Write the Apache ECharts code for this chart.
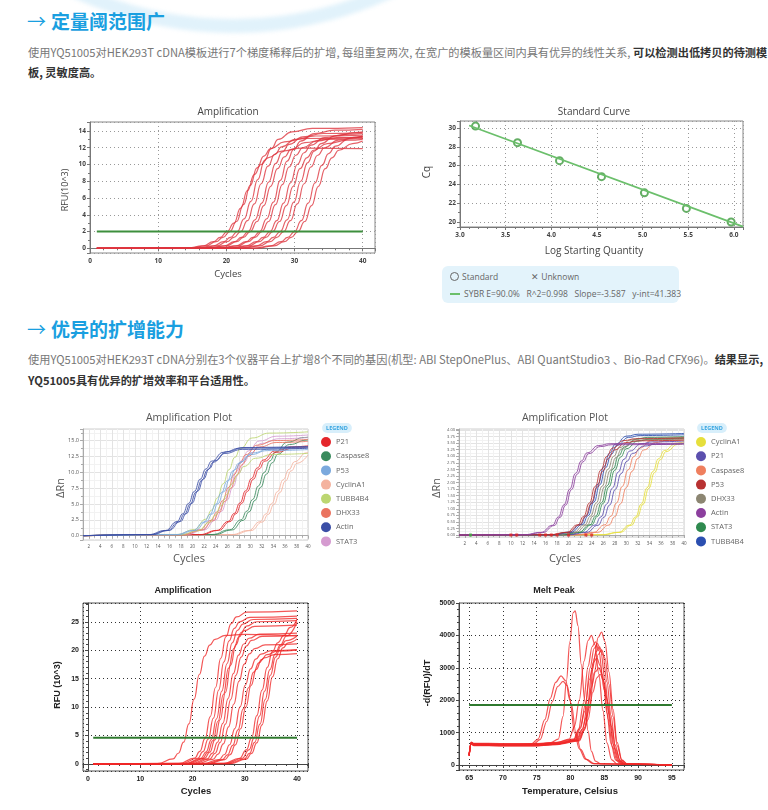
<!DOCTYPE html>
<html>
<head>
<meta charset="utf-8">
<script src="https://cdn.jsdelivr.net/npm/echarts@6/dist/echarts.min.js"></script>
<style>
html, body { margin:0; padding:0; background:#fff; }
#page { position:relative; width:768px; height:810px; overflow:hidden; font-family:"Noto Sans CJK SC", sans-serif; }
.arc { position:absolute; left:-147px; top:-727px; width:760px; height:760px; box-sizing:border-box; border-radius:50%; border:14px solid rgba(195,230,247,0.5); filter:blur(2px); }
.h { position:absolute; left:27px; font-size:19px; font-weight:700; color:#1a9fe0; white-space:nowrap; line-height:24px; }
.h .ar { font-weight:400; margin-right:5px; }
.p { position:absolute; left:28px; font-size:11.2px; color:#777; white-space:nowrap; line-height:16px; }
.p b { color:#333; }
.c { position:absolute; }
#stdLegend { position:absolute; left:442px; top:266px; width:237px; height:37px; background:#e3f3fb; border-radius:6px; font-family:"Open Sans", sans-serif; font-size:8.5px; color:#666; }
#stdLegend span { position:absolute; white-space:nowrap; line-height:12px; }
.ring { display:inline-block; width:7px; height:7px; border:1px solid #666; border-radius:50%; vertical-align:-1px; margin-right:3px; }
.dash { display:inline-block; width:10px; height:2px; background:#6bbf6b; vertical-align:2px; margin-right:4px; }
</style>
</head>
<body>
<div id="page">
  <div class="arc"></div>
  <div class="h" style="top:9px;"><span class="ar">→</span>定量阈范围广</div>
  <div class="p" style="top:44px;">使用YQ51005对HEK293T cDNA模板进行7个梯度稀释后的扩增, 每组重复两次, 在宽广的模板量区间内具有优异的线性关系, <b>可以检测出低拷贝的待测模</b></div>
  <div class="p" style="top:64px;"><b>板, 灵敏度高。</b></div>

  <div class="c" id="c1" style="left:40px; top:95px; width:345px; height:190px;"></div>
  <div class="c" id="c2" style="left:410px; top:95px; width:345px; height:170px;"></div>
  <div id="stdLegend">
    <span style="left:8px; top:5px;"><i class="ring"></i>Standard</span>
    <span style="left:89px; top:5px;">✕ Unknown</span>
    <span style="left:8px; top:22px;"><i class="dash"></i>SYBR E=90.0%&nbsp;&nbsp; R^2=0.998&nbsp;&nbsp; Slope=-3.587&nbsp;&nbsp; y-int=41.383</span>
  </div>

  <div class="h" style="top:317px;"><span class="ar">→</span>优异的扩增能力</div>
  <div class="p" style="top:351px;">使用YQ51005对HEK293T cDNA分别在3个仪器平台上扩增8个不同的基因(机型: ABI StepOnePlus、ABI QuantStudio3 、Bio-Rad CFX96)。<b>结果显示,</b></div>
  <div class="p" style="top:372px;"><b>YQ51005具有优异的扩增效率和平台适用性。</b></div>

  <div class="c" id="c3" style="left:40px; top:405px; width:330px; height:165px;"></div>
  <div class="c" id="c4" style="left:410px; top:405px; width:355px; height:165px;"></div>
  <div class="c" id="c5" style="left:40px; top:580px; width:290px; height:225px;"></div>
  <div class="c" id="c6" style="left:400px; top:580px; width:300px; height:225px;"></div>
</div>
<script>
// ---------- chart 1: dilution series amplification (RFU x10^3 vs cycle) ----------
var ampCurves = [
  [[1,0],[14.1,0.02],[16.6,0.3],[18.1,0.8],[19.1,1.3],[20.1,2],[21.1,3.0],[22.1,4.8],[23.1,6.9],[24.1,8.8],[25.1,10.0],[26.1,10.8],[28.1,11.6],[31.1,11.95],[40,11.9]],
  [[1,0],[14.5,0.02],[17,0.3],[18.5,0.8],[19.5,1.3],[20.5,2],[21.5,3.2],[22.5,5.2],[23.5,7.5],[24.5,9.6],[25.5,11.0],[26.5,11.9],[28.5,12.7],[31.5,13.1],[40,13.2]],
  [[1,0],[15.6,0.02],[18.1,0.3],[19.6,0.8],[20.6,1.3],[21.6,2],[22.6,3.5],[23.6,5.6],[24.6,8.2],[25.6,10.5],[26.6,11.9],[27.6,13.0],[29.6,13.9],[32.6,14.3],[40,14.4]],
  [[1,0],[16.1,0.02],[18.6,0.3],[20.1,0.8],[21.1,1.3],[22.1,2],[23.1,3.3],[24.1,5.3],[25.1,7.7],[26.1,9.8],[27.1,11.2],[28.1,12.1],[30.1,13.0],[33.1,13.4],[40,13.5]],
  [[1,0],[17.2,0.02],[19.7,0.3],[21.2,0.8],[22.2,1.3],[23.2,2],[24.2,3.4],[25.2,5.4],[26.2,7.9],[27.2,10.1],[28.2,11.5],[29.2,12.4],[31.2,13.3],[34.2,13.7],[40,13.8]],
  [[1,0],[17.5,0.02],[20,0.3],[21.5,0.8],[22.5,1.3],[23.5,2],[24.5,3.2],[25.5,5.1],[26.5,7.4],[27.5,9.5],[28.5,10.9],[29.5,11.8],[31.5,12.6],[34.5,13.0],[40,13.1]],
  [[1,0],[18.9,0.02],[21.4,0.3],[22.9,0.8],[23.9,1.3],[24.9,2],[25.9,3.5],[26.9,5.5],[27.9,8.1],[28.9,10.4],[29.9,11.8],[30.9,12.8],[32.9,13.7],[35.9,14.1],[40,14.2]],
  [[1,0],[19.2,0.02],[21.7,0.3],[23.2,0.8],[24.2,1.3],[25.2,2],[26.2,3.2],[27.2,5.2],[28.2,7.6],[29.2,9.7],[30.2,11.1],[31.2,12.0],[33.2,12.8],[36.2,13.2],[40,13.3]],
  [[1,0],[20.4,0.02],[22.9,0.3],[24.4,0.8],[25.4,1.3],[26.4,2],[27.4,3.3],[28.4,5.4],[29.4,7.8],[30.4,10.0],[31.4,11.4],[32.4,12.3],[34.4,13.2],[37.4,13.6],[40,13.7]],
  [[1,0],[20.8,0.02],[23.3,0.3],[24.8,0.8],[25.8,1.3],[26.8,2],[27.8,3.2],[28.8,5.1],[29.8,7.4],[30.8,9.5],[31.8,10.8],[32.8,11.7],[34.8,12.5],[37.8,12.9],[40,13.0]],
  [[1,0],[21.9,0.02],[24.4,0.3],[25.9,0.8],[26.9,1.3],[27.9,2],[28.9,3.4],[29.9,5.5],[30.9,8.0],[31.9,10.2],[32.9,11.6],[33.9,12.5],[35.9,13.4],[38.9,13.8],[40,13.9]],
  [[1,0],[22.4,0.02],[24.9,0.3],[26.4,0.8],[27.4,1.3],[28.4,2],[29.4,3.3],[30.4,5.3],[31.4,7.7],[32.4,9.7],[33.4,11.1],[34.4,12.0],[36.4,12.9],[39.4,13.3],[40,13.35]],
  [[1,0],[24,0.02],[26.5,0.3],[28,0.8],[29,1.3],[30,2],[31,3.3],[32,5.4],[33,7.8],[34,9.9],[35,11.3],[36,12.2],[38,13.1],[40,13.4]],
  [[1,0],[24.5,0.02],[27,0.3],[28.5,0.8],[29.5,1.3],[30.5,2],[31.5,3.2],[32.5,5.1],[33.5,7.4],[34.5,9.5],[35.5,10.8],[36.5,11.7],[38.5,12.5],[40,12.8]]
];
var ampThreshold = [[1, 2], [40, 2]];

// ---------- chart 2: standard curve ----------
var stdLogQty = [3.17, 3.63, 4.09, 4.55, 5.02, 5.48, 5.97];
var stdCq = [30.2, 28.44, 26.52, 24.82, 23.1, 21.45, 20.0];
var fitLogQty = [3.1, 6.1];
var fitCq = [30.26, 19.5];

// ---------- chart 3: ABI StepOnePlus amplification plot ----------
var abi1Genes = ['P21', 'Caspase8', 'P53', 'CyclinA1', 'TUBB4B4', 'DHX33', 'Actin', 'STAT3'];
var abi1Colors = ['#e4262b', '#3a8b5d', '#7ba9dd', '#f4b39f', '#bcd671', '#ea735f', '#3b4ea6', '#d59bd0'];
var abi1Wells = [
  ['CyclinA1', [[1,0],[26.7,0.17],[29.7,0.82],[31.7,2.21],[32.7,3.43],[33.7,5.06],[34.7,6.95],[35.7,8.84],[36.7,10.47],[37.7,11.69],[39.7,13.08],[40,13.15]]],
  ['CyclinA1', [[1,0],[27.1,0.16],[30.1,0.8],[32.1,2.16],[33.1,3.36],[34.1,4.95],[35.1,6.8],[36.1,8.65],[37.1,10.24],[38.1,11.44],[40,12.76]]],
  ['Caspase8', [[1,0],[23.4,0.19],[26.4,0.93],[28.4,2.5],[29.4,3.88],[30.4,5.71],[31.4,7.85],[32.4,9.99],[33.4,11.82],[34.4,13.2],[36.4,14.77],[39.4,15.51],[40,15.55]]],
  ['Caspase8', [[1,0],[23.8,0.18],[26.8,0.9],[28.8,2.43],[29.8,3.78],[30.8,5.57],[31.8,7.65],[32.8,9.73],[33.8,11.52],[34.8,12.87],[36.8,14.4],[39.8,15.1],[40,15.12]]],
  ['P21', [[1,0],[21.2,0.17],[24.2,0.84],[26.2,2.26],[27.2,3.51],[28.2,5.17],[29.2,7.1],[30.2,9.03],[31.2,10.69],[32.2,11.94],[34.2,13.36],[37.2,14.03],[40,14.2]]],
  ['P21', [[1,0],[21.5,0.17],[24.5,0.83],[26.5,2.23],[27.5,3.46],[28.5,5.1],[29.5,7.0],[30.5,8.9],[31.5,10.54],[32.5,11.77],[34.5,13.17],[37.5,13.83],[40,14.0]]],
  ['STAT3', [[1,0],[18.6,0.19],[21.6,0.94],[23.6,2.53],[24.6,3.93],[25.6,5.79],[26.6,7.95],[27.6,10.11],[28.6,11.97],[29.6,13.37],[31.6,14.96],[34.6,15.71],[40,15.9]]],
  ['STAT3', [[1,0],[19,0.19],[22,0.91],[24,2.46],[25,3.83],[26,5.64],[27,7.75],[28,9.86],[29,11.67],[30,13.04],[32,14.59],[35,15.31],[40,15.5]]],
  ['DHX33', [[1,0],[18.2,0.18],[21.2,0.9],[23.2,2.42],[24.2,3.75],[25.2,5.53],[26.2,7.6],[27.2,9.67],[28.2,11.45],[29.2,12.78],[31.2,14.3],[34.2,15.02],[40,15.2]]],
  ['DHX33', [[1,0],[18.6,0.18],[21.6,0.88],[23.6,2.37],[24.6,3.68],[25.6,5.42],[26.6,7.45],[27.6,9.48],[28.6,11.22],[29.6,12.53],[31.6,14.02],[34.6,14.72],[40,14.9]]],
  ['TUBB4B4', [[1,0],[17.3,0.2],[20.3,0.97],[22.3,2.61],[23.3,4.05],[24.3,5.97],[25.3,8.2],[26.3,10.43],[27.3,12.35],[28.3,13.79],[30.3,15.43],[33.3,16.2],[40,16.4]]],
  ['TUBB4B4', [[1,0],[17.9,0.16],[20.9,0.77],[22.9,2.07],[23.9,3.21],[24.9,4.73],[25.9,6.5],[26.9,8.27],[27.9,9.79],[28.9,10.93],[30.9,12.23],[33.9,12.84],[40,13.0]]],
  ['P53', [[1,0],[17,0.16],[20,0.8],[22,2.16],[23,3.36],[24,4.95],[25,6.8],[26,8.65],[27,10.24],[28,11.44],[30,12.8],[33,13.44],[40,13.6]]],
  ['P53', [[1,0],[17.4,0.17],[20.4,0.82],[22.4,2.21],[23.4,3.43],[24.4,5.06],[25.4,6.95],[26.4,8.84],[27.4,10.47],[28.4,11.69],[30.4,13.08],[33.4,13.73],[40,13.9]]],
  ['Actin', [[1,0],[12.3,0.17],[15.3,0.83],[17.3,2.23],[18.3,3.46],[19.3,5.1],[20.3,7.0],[21.3,8.9],[22.3,10.54],[23.3,11.77],[25.3,13.17],[28.3,13.83],[40,14.0]]],
  ['Actin', [[1,0],[12.6,0.17],[15.6,0.81],[17.6,2.19],[18.6,3.41],[19.6,5.02],[20.6,6.9],[21.6,8.78],[22.6,10.39],[23.6,11.61],[25.6,12.99],[28.6,13.63],[40,13.8]]],
  ['Actin', [[1,0],[12.9,0.17],[15.9,0.83],[17.9,2.24],[18.9,3.48],[19.9,5.13],[20.9,7.05],[21.9,8.97],[22.9,10.62],[23.9,11.86],[25.9,13.27],[28.9,13.93],[40,14.1]]]
];

// ---------- chart 4: ABI QuantStudio3 amplification plot ----------
var abi2Genes = ['CyclinA1', 'P21', 'Caspase8', 'P53', 'DHX33', 'Actin', 'STAT3', 'TUBB4B4'];
var abi2Colors = ['#e6df3c', '#5b4fae', '#ef7f5e', '#b83232', '#8c8672', '#8c3f9e', '#2f8a4f', '#2b4fb0'];
var abi2Wells = [
  ['CyclinA1', [[1,0],[25.6,0.01],[28.6,0.1],[30.6,0.38],[31.6,0.69],[32.6,1.18],[33.6,1.8],[34.6,2.42],[35.6,2.91],[36.6,3.22],[38.6,3.5],[40,3.56]]],
  ['CyclinA1', [[1,0],[25.9,0.01],[28.9,0.1],[30.9,0.37],[31.9,0.69],[32.9,1.17],[33.9,1.78],[34.9,2.38],[35.9,2.87],[36.9,3.18],[38.9,3.45],[40,3.51]]],
  ['Caspase8', [[1,0],[21.3,0.01],[24.3,0.1],[26.3,0.39],[27.3,0.71],[28.3,1.22],[29.3,1.85],[30.3,2.48],[31.3,2.99],[32.3,3.31],[34.3,3.6],[36.3,3.67],[40,3.7]]],
  ['Caspase8', [[1,0],[22,0.01],[25,0.1],[27,0.38],[28,0.7],[29,1.19],[30,1.81],[31,2.43],[32,2.92],[33,3.24],[35,3.52],[37,3.59],[40,3.62]]],
  ['P21', [[1,0],[19.6,0.01],[22.6,0.1],[24.6,0.38],[25.6,0.69],[26.6,1.18],[27.6,1.79],[28.6,2.4],[29.6,2.89],[30.6,3.2],[32.6,3.48],[34.6,3.55],[40,3.58]]],
  ['P21', [[1,0],[20.1,0.01],[23.1,0.1],[25.1,0.37],[26.1,0.67],[27.1,1.14],[28.1,1.74],[29.1,2.34],[30.1,2.81],[31.1,3.11],[33.1,3.39],[35.1,3.46],[40,3.48]]],
  ['STAT3', [[1,0],[18.7,0.01],[21.7,0.1],[23.7,0.39],[24.7,0.72],[25.7,1.23],[26.7,1.88],[27.7,2.52],[28.7,3.03],[29.7,3.36],[31.7,3.65],[33.7,3.72],[40,3.75]]],
  ['STAT3', [[1,0],[19,0.01],[22,0.1],[24,0.39],[25,0.71],[26,1.21],[27,1.84],[28,2.47],[29,2.97],[30,3.29],[32,3.58],[34,3.65],[40,3.68]]],
  ['DHX33', [[1,0],[17.8,0.01],[20.8,0.1],[22.8,0.39],[23.8,0.72],[24.8,1.22],[25.8,1.86],[26.8,2.5],[27.8,3.0],[28.8,3.33],[30.8,3.62],[32.8,3.69],[40,3.72]]],
  ['DHX33', [[1,0],[18.2,0.01],[21.2,0.1],[23.2,0.38],[24.2,0.71],[25.2,1.2],[26.2,1.83],[27.2,2.46],[28.2,2.95],[29.2,3.28],[31.2,3.56],[33.2,3.63],[40,3.66]]],
  ['TUBB4B4', [[1,0],[17.1,0.01],[20.1,0.11],[22.1,0.41],[23.1,0.75],[24.1,1.27],[25.1,1.94],[26.1,2.6],[27.1,3.12],[28.1,3.46],[30.1,3.77],[32.1,3.84],[40,3.87]]],
  ['TUBB4B4', [[1,0],[17.4,0.01],[20.4,0.1],[22.4,0.4],[23.4,0.74],[24.4,1.26],[25.4,1.91],[26.4,2.56],[27.4,3.08],[28.4,3.42],[30.4,3.72],[32.4,3.79],[40,3.82]]],
  ['P53', [[1,0],[16.6,0.01],[19.6,0.1],[21.6,0.39],[22.6,0.71],[23.6,1.22],[24.6,1.85],[25.6,2.48],[26.6,2.99],[27.6,3.31],[29.6,3.6],[31.6,3.67],[40,3.7]]],
  ['P53', [[1,0],[16.9,0.01],[19.9,0.1],[21.9,0.38],[22.9,0.7],[23.9,1.19],[24.9,1.81],[25.9,2.43],[26.9,2.92],[27.9,3.24],[29.9,3.52],[31.9,3.59],[40,3.62]]],
  ['Actin', [[1,0],[12.2,0.01],[15.2,0.1],[17.2,0.37],[18.2,0.68],[19.2,1.15],[20.2,1.75],[21.2,2.35],[22.2,2.82],[23.2,3.13],[25.2,3.41],[27.2,3.48],[40,3.5]]],
  ['Actin', [[1,0],[12.5,0.01],[15.5,0.09],[17.5,0.36],[18.5,0.67],[19.5,1.14],[20.5,1.73],[21.5,2.32],[22.5,2.79],[23.5,3.1],[25.5,3.37],[27.5,3.44],[40,3.46]]]
];
var qsCtCycles = [10, 11, 15, 16, 17, 18, 20, 23, 24];
var qsStartCycles = [3];

// ---------- chart 5: Bio-Rad CFX96 amplification ----------
var cfxCurves = [
  [[1,0],[13.3,0.08],[16.3,0.89],[17.3,1.89],[18.3,3.83],[19.3,7.07],[20.3,11.4],[21.3,15.73],[22.3,18.97],[23.3,20.91],[24.3,21.91],[26.3,22.62],[30,22.8],[40,22.5]],
  [[1,0],[17.4,0.1],[20.4,1.05],[21.4,2.23],[22.4,4.52],[23.4,8.34],[24.4,13.45],[25.4,18.56],[26.4,22.38],[27.4,24.67],[28.4,25.85],[30.4,26.68],[40,26.9]],
  [[1,0],[18,0.1],[21,1.01],[22,2.16],[23,4.37],[24,8.06],[25,13.0],[26,17.94],[27,21.63],[28,23.84],[29,24.99],[31,25.79],[40,26.0]],
  [[1,0],[18.6,0.09],[21.6,1.0],[22.6,2.12],[23.6,4.3],[24.6,7.94],[25.6,12.8],[26.6,17.66],[27.6,21.3],[28.6,23.48],[29.6,24.6],[31.6,25.4],[40,25.6]],
  [[1,0],[18.9,0.09],[21.9,0.95],[22.9,2.03],[23.9,4.1],[24.9,7.56],[25.9,12.2],[26.9,16.84],[27.9,20.3],[28.9,22.37],[29.9,23.45],[31.9,24.2],[40,24.4]],
  [[1,0],[19.3,0.09],[22.3,0.98],[23.3,2.09],[24.3,4.23],[25.3,7.81],[26.3,12.6],[27.3,17.39],[28.3,20.97],[29.3,23.11],[30.3,24.22],[32.3,25.0],[40,25.2]],
  [[1,0],[19.8,0.09],[22.8,0.9],[23.8,1.91],[24.8,3.86],[25.8,7.13],[26.8,11.5],[27.8,15.87],[28.8,19.14],[29.8,21.09],[30.8,22.1],[32.8,22.82],[40,23.0]],
  [[1,0],[20.3,0.08],[23.3,0.88],[24.3,1.88],[25.3,3.8],[26.3,7.01],[27.3,11.3],[28.3,15.59],[29.3,18.8],[30.3,20.72],[31.3,21.72],[33.3,22.42],[40,22.6]],
  [[1,0],[20.9,0.08],[23.9,0.82],[24.9,1.75],[25.9,3.54],[26.9,6.54],[27.9,10.55],[28.9,14.56],[29.9,17.56],[30.9,19.35],[31.9,20.28],[33.9,20.93],[40,21.1]],
  [[1,0],[22.1,0.07],[25.1,0.78],[26.1,1.67],[27.1,3.38],[28.1,6.23],[29.1,10.05],[30.1,13.87],[31.1,16.72],[32.1,18.43],[33.1,19.32],[35.1,19.94],[40,20.1]],
  [[1,0],[22.7,0.07],[25.7,0.76],[26.7,1.61],[27.7,3.26],[28.7,6.01],[29.7,9.7],[30.7,13.39],[31.7,16.14],[32.7,17.79],[33.7,18.64],[35.7,19.24],[40,19.4]],
  [[1,0],[23.2,0.07],[26.2,0.78],[27.2,1.66],[28.2,3.36],[29.2,6.2],[30.2,10.0],[31.2,13.8],[32.2,16.64],[33.2,18.34],[34.2,19.22],[36.2,19.84],[40,20.0]],
  [[1,0],[26,0.1],[29,1.0],[30.3,2.5],[31.3,4.6],[32.3,8.5],[33.3,13.0],[34.3,17.0],[35.3,19.8],[36.3,21.3],[37.5,22.6],[38.7,24.0],[40,25.5]],
  [[1,0],[26.5,0.1],[29.5,1.0],[30.8,2.5],[31.8,4.6],[32.8,8.4],[33.8,12.8],[34.8,16.6],[35.8,19.3],[36.8,20.9],[38,22.5],[40,25.0]],
  [[1,0],[26.9,0.08],[29.9,0.88],[30.9,1.88],[31.9,3.8],[32.9,7.0],[33.9,11.3],[34.9,15.6],[35.9,18.8],[36.9,20.7],[37.9,21.7],[40,22.5]],
  [[1,0],[27.3,0.08],[30.3,0.87],[31.3,1.86],[32.3,3.73],[33.3,6.88],[34.3,11.1],[35.3,15.3],[36.3,18.5],[37.3,20.4],[38.3,21.3],[40,22.0]]
];
var cfxThreshold = [[1, 4.6], [40, 4.6]];

// ---------- chart 6: melt peak, -d(RFU)/dT vs temperature ----------
var meltCurves = [
  [[65,320],[65.3,690],[65.7,650],[68,640],[72,625],[75,640],[77,680],[78.2,800],[78.9,1500],[79.4,2600],[79.9,3800],[80.4,4700],[80.7,4760],[81.1,4300],[81.6,3100],[82.1,2000],[82.6,1050],[83.1,420],[83.7,120],[84.5,30],[90,20],[95,5]],
  [[65,300],[65.3,680],[65.7,640],[68,630],[72,620],[74.2,650],[75.2,800],[76.2,1400],[77,2050],[77.8,2550],[78.6,2750],[79.3,2600],[79.9,2000],[80.6,1000],[81.3,500],[82.2,180],[83.3,40],[90,20],[95,5]],
  [[65,290],[65.3,670],[65.7,630],[68,620],[72,610],[74.5,640],[75.5,780],[76.5,1350],[77.3,1950],[78.1,2420],[78.9,2580],[79.5,2450],[80.1,1900],[80.8,1000],[81.5,480],[82.4,170],[83.5,40],[90,20],[95,5]],
  [[65,300],[65.3,700],[65.7,660],[70,650],[75,650],[78,690],[79.8,800],[80.6,1200],[81.3,2000],[82,3200],[82.6,3840],[83.1,4000],[83.6,3720],[84.2,2800],[84.8,1680],[85.4,680],[86.1,160],[86.9,30],[95,5]],
  [[65,310],[65.3,670],[65.7,630],[70,620],[75,620],[78,660],[81.3,770],[82.1,1150],[82.8,2050],[83.5,3280],[84.1,3940],[84.6,4100],[85.1,3810],[85.7,2870],[86.3,1720],[86.9,700],[87.6,160],[88.4,30],[95,5]],
  [[65,280],[65.3,650],[65.7,610],[70,600],[75,600],[78,640],[80.4,750],[81.2,1100],[81.9,1900],[82.6,3040],[83.2,3650],[83.7,3800],[84.2,3530],[84.8,2660],[85.4,1600],[86,650],[86.7,150],[87.5,30],[95,5]],
  [[65,300],[65.3,690],[65.7,650],[70,640],[75,640],[78,680],[80.7,790],[81.5,1140],[82.2,1880],[82.9,3000],[83.5,3600],[84,3750],[84.5,3490],[85.1,2630],[85.7,1580],[86.3,640],[87,150],[87.8,30],[95,5]],
  [[65,290],[65.3,660],[65.7,620],[70,610],[75,610],[78,650],[81,760],[81.8,1110],[82.5,1830],[83.2,2920],[83.8,3500],[84.3,3650],[84.8,3390],[85.4,2560],[86,1530],[86.6,620],[87.3,150],[88.1,30],[95,5]],
  [[65,280],[65.3,640],[65.7,600],[70,590],[75,590],[78,630],[81.3,740],[82.1,1090],[82.8,1780],[83.5,2840],[84.1,3410],[84.6,3550],[85.1,3300],[85.7,2490],[86.3,1490],[86.9,600],[87.6,140],[88.4,30],[95,5]],
  [[65,310],[65.3,710],[65.7,670],[70,660],[75,660],[78,700],[80.6,810],[81.4,1150],[82.1,1650],[82.8,2640],[83.4,3170],[83.9,3300],[84.4,3070],[85,2310],[85.6,1390],[86.2,560],[86.9,130],[87.7,30],[95,5]],
  [[65,300],[65.3,680],[65.7,640],[70,630],[75,630],[78,670],[80.9,780],[81.7,1100],[82.4,1500],[83.1,2400],[83.7,2880],[84.2,3000],[84.7,2790],[85.3,2100],[85.9,1260],[86.5,510],[87.2,120],[88,30],[95,5]],
  [[65,290],[65.3,650],[65.7,610],[70,600],[75,600],[78,640],[81.1,750],[81.9,1050],[82.6,1400],[83.3,2240],[83.9,2690],[84.4,2800],[84.9,2600],[85.5,1960],[86.1,1180],[86.7,480],[87.4,110],[88.2,30],[95,5]]
];
var meltThreshold = [[65, 1850], [95, 1850]];

// ---------- helpers ----------
function curve(pts, color, width, smooth) {
    return {type: 'line', data: pts, showSymbol: false, smooth: smooth, smoothMonotone: 'x',
        silent: true, lineStyle: {color: color, width: width}};
}
function flat(pts, color, width) {
    return {type: 'line', data: pts, showSymbol: false, silent: true, lineStyle: {color: color, width: width}, z: 3};
}
function txt(x, y, s, size, color, weight, family, rot) {
    return {type: 'text', x: x, y: y, rotation: rot || 0, silent: true,
        style: {text: s, fontSize: size, fill: color, fontWeight: weight || 'normal', fontFamily: family,
            textAlign: 'center', textVerticalAlign: 'middle'}};
}
function plain(v) { return '' + v; }
function valAxis(o) {
    return {
        type: 'value', min: o.min, max: o.max, minInterval: o.step, maxInterval: o.step,
        axisLine: {show: true, lineStyle: {color: o.lineColor || '#777'}},
        axisTick: {show: true, length: 3, lineStyle: {color: o.lineColor || '#777'}},
        minorTick: {show: !!o.minor, splitNumber: o.minor || 5, length: 2, lineStyle: {color: o.lineColor || '#777'}},
        axisLabel: {fontSize: o.labelSize, color: o.labelColor, fontWeight: o.bold ? 'bold' : 'normal',
            fontFamily: o.family, margin: o.margin || 4, showMinLabel: !!o.showMin, showMaxLabel: !!o.showMax,
            formatter: o.fmt || plain},
        splitLine: {show: true, lineStyle: {color: o.gridColor, type: o.dotted ? [1, 3] : 'solid', width: 1}},
        minorSplitLine: {show: !!o.minorGrid, lineStyle: {color: o.minorGrid || '#f3f3f3', width: 1}}
    };
}

// ---------- chart 1 ----------
var myChart1 = echarts.init(document.getElementById('c1'));
var s1 = ampCurves.map(function (p) { return curve(p, 'rgba(222,52,62,0.78)', 1.2, 0.5); });
s1.push(flat(ampThreshold, '#3d8f3d', 2));
myChart1.setOption({
    animation: false,
    grid: {left: 50, top: 27, width: 285, height: 131, show: true, borderColor: '#888', borderWidth: 1},
    xAxis: valAxis({min: 0, max: 41.8, step: 10, labelSize: 6.5, labelColor: '#444', bold: true, family: 'Open Sans',
        gridColor: '#999', dotted: true, minor: 5, showMin: true, margin: 5}),
    yAxis: valAxis({min: -0.56, max: 15.07, step: 2, labelSize: 6.5, labelColor: '#444', bold: true, family: 'Open Sans',
        gridColor: '#999', dotted: true, minor: 2}),
    graphic: [
        txt(188, 17, 'Amplification', 10, '#444', 'normal', 'Open Sans'),
        txt(188, 179, 'Cycles', 9.5, '#444', 'normal', 'Open Sans'),
        txt(25, 95, 'RFU(10^3)', 9, '#444', 'normal', 'Open Sans', Math.PI / 2)
    ],
    series: s1
});

// ---------- chart 2 ----------
var myChart2 = echarts.init(document.getElementById('c2'));
myChart2.setOption({
    animation: false,
    grid: {left: 50, top: 26, width: 283, height: 106, show: true, borderColor: '#888', borderWidth: 1},
    xAxis: valAxis({min: 3.0, max: 6.1, step: 0.5, labelSize: 6.5, labelColor: '#444', bold: true, family: 'Open Sans',
        gridColor: '#999', dotted: true, minor: 5, showMin: true, margin: 5,
        fmt: function (v) { return v.toFixed(1); }}),
    yAxis: valAxis({min: 19.47, max: 30.74, step: 2, labelSize: 6.5, labelColor: '#444', bold: true, family: 'Open Sans',
        gridColor: '#999', dotted: true, minor: 2}),
    graphic: [
        txt(184, 17, 'Standard Curve', 10, '#444', 'normal', 'Open Sans'),
        txt(184, 156, 'Log Starting Quantity', 10, '#444', 'normal', 'Open Sans'),
        txt(17, 77, 'Cq', 10, '#444', 'normal', 'Open Sans', Math.PI / 2)
    ],
    series: [
        {type: 'line', data: fitLogQty.map(function (x, i) { return [x, fitCq[i]]; }), showSymbol: false, silent: true,
            lineStyle: {color: '#6bbf6b', width: 1.8}},
        {type: 'scatter', data: stdLogQty.map(function (x, i) { return [x, stdCq[i]]; }), symbol: 'circle', symbolSize: 7,
            silent: true, itemStyle: {color: '#ffffff', borderColor: '#3f9a3f', borderWidth: 2}}
    ]
});

// ---------- chart 3 / 4 (ABI) ----------
function abiChart(id, genes, colors, wells, yMax, yStep, yFmt, yMin, gridLeft, legendLeft, badgeX, extra) {
    var chart = echarts.init(document.getElementById(id));
    var series = wells.map(function (w) {
        var col = colors[genes.indexOf(w[0])];
        var s = curve(w[1], col, 1.0, 0.5);
        s.name = w[0];
        s.itemStyle = {color: col};
        s.lineStyle.opacity = 0.85;
        return s;
    });
    chart.setOption({
        animation: false,
        grid: {left: gridLeft, top: 24, width: 225, height: yMax.h, show: true, borderColor: '#cfcfcf', borderWidth: 1},
        legend: {orient: 'vertical', left: legendLeft, top: 32, padding: 0, itemWidth: 10, itemHeight: 10, itemGap: 4.2,
            icon: 'circle', data: genes, selectedMode: false,
            textStyle: {fontSize: 7.5, color: '#666', fontFamily: 'Open Sans', lineHeight: 10}},
        xAxis: valAxis({min: 1, max: 40, step: 2, labelSize: 4.5, labelColor: '#555', family: 'Open Sans',
            gridColor: '#e3e3e3', minor: 2, minorGrid: '#f2f2f2', showMax: true, lineColor: '#aaa', margin: 4}),
        yAxis: valAxis({min: yMin, max: yMax.v, step: yStep, labelSize: yMax.f, labelColor: '#555', family: 'Open Sans',
            gridColor: '#e3e3e3', minor: 2, minorGrid: '#f2f2f2', lineColor: '#aaa', fmt: yFmt, margin: 4}),
        graphic: [
            txt(gridLeft + 106, 13, 'Amplification Plot', 10.5, '#555', 'normal', 'Open Sans'),
            txt(gridLeft + 106, 154, 'Cycles', 11, '#555', 'normal', 'Open Sans'),
            txt(gridLeft - 22, 83, 'ΔRn', 11, '#555', 'normal', 'Open Sans', Math.PI / 2),
            {type: 'text', x: badgeX, y: 23, silent: true, style: {text: 'LEGEND', fontSize: 5.5, fill: '#36a4e0',
                fontWeight: 'bold', fontFamily: 'Open Sans', textAlign: 'center', textVerticalAlign: 'middle',
                backgroundColor: '#d8effb', padding: [2, 4], borderRadius: 5}}
        ],
        series: series.concat(extra || [])
    });
    return chart;
}
var myChart3 = abiChart('c3', abi1Genes, abi1Colors, abi1Wells, {v: 16.85, h: 111, f: 5.5}, 2.5,
    function (v) { return v.toFixed(1); }, -0.68, 43, 281, 297);
var myChart4 = abiChart('c4', abi2Genes, abi2Colors, abi2Wells, {v: 4.04, h: 108, f: 4}, 0.25,
    function (v) { return v.toFixed(2); }, -0.076, 49, 286, 302, [
        {type: 'scatter', data: qsCtCycles.map(function (c) { return [c, 0]; }), symbol: 'rect', symbolSize: 3,
            silent: true, itemStyle: {color: '#e02424'}, z: 4},
        {type: 'scatter', data: qsStartCycles.map(function (c) { return [c, 0]; }), symbol: 'rect', symbolSize: 3,
            silent: true, itemStyle: {color: '#3fae3f'}, z: 4}
    ]);

// ---------- chart 5 ----------
var myChart5 = echarts.init(document.getElementById('c5'));
var s5 = cfxCurves.map(function (p) { return curve(p, 'rgba(240,40,40,0.78)', 1.2, 0.5); });
s5.push(flat(cfxThreshold, '#2f7a2f', 2));
myChart5.setOption({
    animation: false,
    grid: {left: 43, top: 23, width: 225, height: 168, show: true, borderColor: '#555', borderWidth: 1},
    xAxis: valAxis({min: -0.96, max: 42.1, step: 10, labelSize: 7, labelColor: '#222', bold: true, family: 'Liberation Sans',
        gridColor: '#333', dotted: true, minor: 5, lineColor: '#444', margin: 5}),
    yAxis: valAxis({min: -1.23, max: 28.3, step: 5, labelSize: 7, labelColor: '#222', bold: true, family: 'Liberation Sans',
        gridColor: '#333', dotted: true, minor: 5, lineColor: '#444'}),
    graphic: [
        txt(143, 11, 'Amplification', 9, '#222', 'bold', 'Liberation Sans'),
        txt(156, 211, 'Cycles', 9.5, '#222', 'bold', 'Liberation Sans'),
        txt(18, 105, 'RFU (10^3)', 9, '#222', 'bold', 'Liberation Sans', Math.PI / 2)
    ],
    series: s5
});

// ---------- chart 6 ----------
var myChart6 = echarts.init(document.getElementById('c6'));
var s6 = meltCurves.map(function (p) { return curve(p, 'rgba(240,40,40,0.78)', 1.2, 0.35); });
s6.push(flat(meltThreshold, '#2f7a2f', 2));
myChart6.setOption({
    animation: false,
    grid: {left: 59, top: 23, width: 225, height: 167, show: true, borderColor: '#555', borderWidth: 1},
    xAxis: valAxis({min: 63.5, max: 96.8, step: 5, labelSize: 7, labelColor: '#222', bold: true, family: 'Liberation Sans',
        gridColor: '#333', dotted: true, minor: 5, lineColor: '#444', margin: 5}),
    yAxis: valAxis({min: -155, max: 5000, step: 1000, labelSize: 7, labelColor: '#222', bold: true, family: 'Liberation Sans',
        gridColor: '#333', dotted: true, minor: 5, lineColor: '#444', showMax: true}),
    graphic: [
        txt(154, 11, 'Melt Peak', 9, '#222', 'bold', 'Liberation Sans'),
        txt(170, 211, 'Temperature, Celsius', 9.5, '#222', 'bold', 'Liberation Sans'),
        txt(28, 103, '-d(RFU)/dT', 9, '#222', 'bold', 'Liberation Sans', Math.PI / 2)
    ],
    series: s6
});
</script>
</body>
</html>
